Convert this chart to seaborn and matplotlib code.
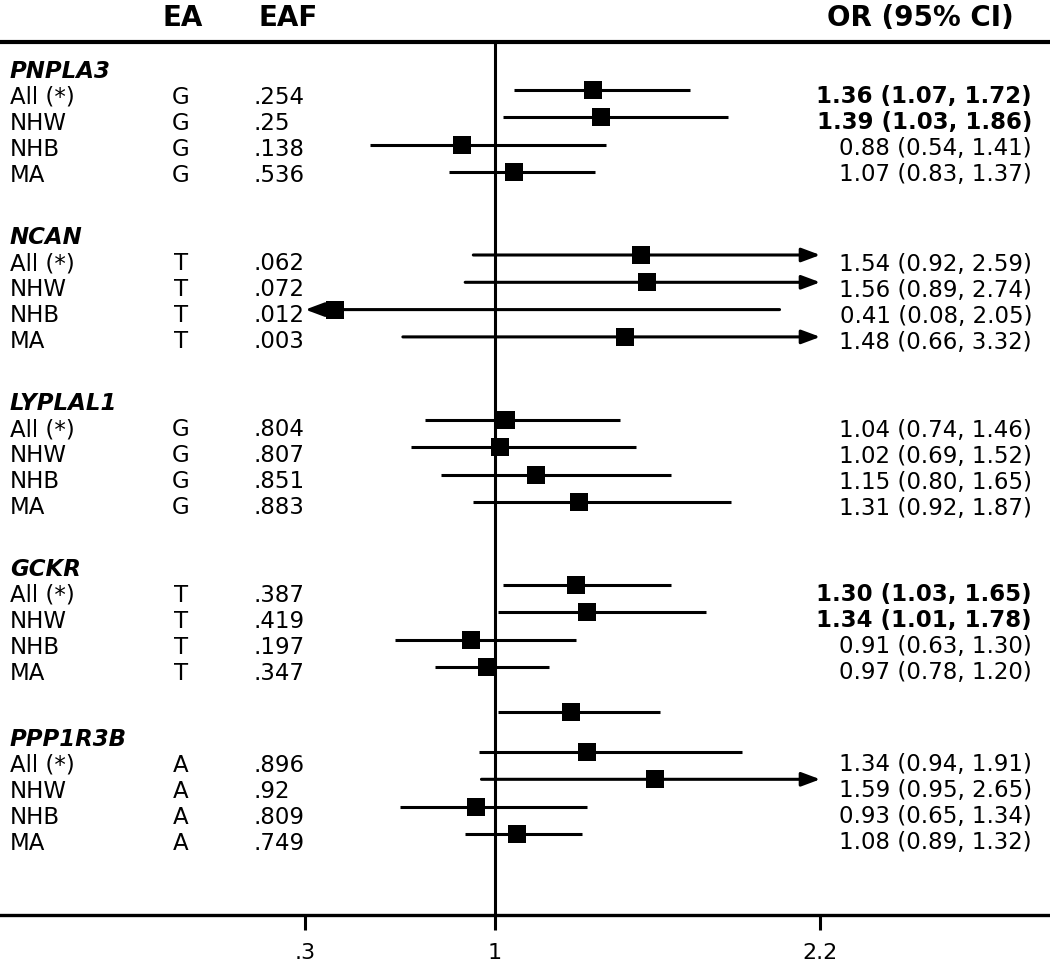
import matplotlib
matplotlib.use("Agg")
import matplotlib.pyplot as plt
import seaborn as sns
import pandas as pd
import numpy as np
from matplotlib import transforms

# ---- data ----
genes = ['PNPLA3', 'NCAN', 'LYPLAL1', 'GCKR', 'PPP1R3B']
groups = ['All (*)', 'NHW', 'NHB', 'MA']
ea = ['G', 'T', 'G', 'T', 'A']
eaf = [['.254', '.25', '.138', '.536'],
       ['.062', '.072', '.012', '.003'],
       ['.804', '.807', '.851', '.883'],
       ['.387', '.419', '.197', '.347'],
       ['.896', '.92', '.809', '.749']]
odds = [[1.36, 1.39, 0.88, 1.07],
        [1.54, 1.56, 0.41, 1.48],
        [1.04, 1.02, 1.15, 1.31],
        [1.30, 1.34, 0.91, 0.97],
        [1.34, 1.59, 0.93, 1.08]]
ci_lo = [[1.07, 1.03, 0.54, 0.83],
         [0.92, 0.89, 0.08, 0.66],
         [0.74, 0.69, 0.80, 0.92],
         [1.03, 1.01, 0.63, 0.78],
         [0.94, 0.95, 0.65, 0.89]]
ci_hi = [[1.72, 1.86, 1.41, 1.37],
         [2.59, 2.74, 2.05, 3.32],
         [1.46, 1.52, 1.65, 1.87],
         [1.65, 1.78, 1.30, 1.20],
         [1.91, 2.65, 1.34, 1.32]]
# unlabelled interval that sits between GCKR and PPP1R3B in the source figure
stray = (1.28, 1.01, 1.61)
xticks = [0.3, 1, 2.2]
xticklabels = ['.3', '1', '2.2']

# ---- layout (pixel rows, figure is 1050 x 969) ----
W, H = 1050, 969
axis_y = 915
head_y = [71, 238, 404, 569, 739]
row_step = 26
ci_offset = [19, 17, 16, 16, 13]
ci_step = 27.3
stray_y = 712
px_one, px_per_unit = 495, 271
clip_lo, clip_hi = xticks[0], xticks[-1]

rows = []
for g, gene in enumerate(genes):
    for i, grp in enumerate(groups):
        rows.append(dict(gene=gene, group=grp, ea=ea[g], eaf=eaf[g][i],
                         odds=odds[g][i], lo=ci_lo[g][i], hi=ci_hi[g][i],
                         text_y=head_y[g] + row_step * (i + 1),
                         ci_y=head_y[g] + ci_offset[g] + ci_step * i))
df = pd.DataFrame(rows)
df['bold'] = (df['lo'] > 1) | (df['hi'] < 1)

sns.set_theme(style='white')
plt.rcParams['font.family'] = ['DejaVu Sans']
plt.rcParams['text.color'] = 'black'
plt.rcParams['xtick.color'] = 'black'

fig = plt.figure(figsize=(W / 100, H / 100), dpi=100)
ax = fig.add_axes([0, (H - axis_y) / H, 1, axis_y / H])
ax.set_xlim(1 - px_one / px_per_unit, 1 + (W - px_one) / px_per_unit)
ax.set_ylim(axis_y, 0)

for s in ['top', 'left', 'right']:
    ax.spines[s].set_visible(False)
ax.spines['bottom'].set_linewidth(2.4)
ax.spines['bottom'].set_color('black')
ax.set_yticks([])
ax.set_xticks(xticks)
ax.set_xticklabels(xticklabels)
ax.tick_params(axis='x', direction='out', length=11, width=2.2, color='black',
               labelcolor='black', labelsize=16, pad=9, bottom=True)

# header rule and reference line
ax.axhline(42, color='black', lw=3)
ax.vlines(1, 42, axis_y, color='black', lw=2.2)

# confidence intervals (arrows where clipped)
ci = pd.concat([df[['odds', 'lo', 'hi', 'ci_y']],
                pd.DataFrame([dict(odds=stray[0], lo=stray[1], hi=stray[2], ci_y=stray_y)])],
               ignore_index=True)
arrow = dict(arrowstyle='-|>,head_length=0.75,head_width=0.28', lw=2.2, color='black',
             mutation_scale=15, shrinkA=0, shrinkB=0)
for _, r in ci.iterrows():
    lo = max(r['lo'], clip_lo)
    hi = min(r['hi'], clip_hi)
    if r['hi'] > clip_hi:
        ax.annotate('', xy=(hi, r['ci_y']), xytext=(lo, r['ci_y']), arrowprops=arrow)
    elif r['lo'] < clip_lo:
        ax.annotate('', xy=(lo, r['ci_y']), xytext=(hi, r['ci_y']), arrowprops=arrow)
    else:
        ax.hlines(r['ci_y'], lo, hi, color='black', lw=2.2)

sns.scatterplot(data=ci, x='odds', y='ci_y', marker='s', s=180, color='black',
                edgecolor='black', linewidth=0, ax=ax, legend=False, zorder=5)
ax.set_xlabel('')
ax.set_ylabel('')

# text columns
tr = transforms.blended_transform_factory(ax.transAxes, ax.transData)
fs = 16.5
hfs = 20
ax.text(183 / W, 18, 'EA', transform=tr, ha='center', va='center',
        fontsize=hfs, fontweight='bold')
ax.text(288 / W, 18, 'EAF', transform=tr, ha='center', va='center',
        fontsize=hfs, fontweight='bold')
ax.text(1014 / W, 18, 'OR (95% CI)', transform=tr, ha='right', va='center',
        fontsize=hfs, fontweight='bold')

for g, gene in enumerate(genes):
    ax.text(10 / W, head_y[g], gene, transform=tr, ha='left', va='center',
            fontsize=fs, fontweight='bold', fontstyle='italic')

for _, r in df.iterrows():
    y = r['text_y']
    ax.text(10 / W, y, r['group'], transform=tr, ha='left', va='center', fontsize=fs)
    ax.text(181 / W, y, r['ea'], transform=tr, ha='center', va='center', fontsize=fs)
    ax.text(254 / W, y, r['eaf'], transform=tr, ha='left', va='center', fontsize=fs)
    label = f"{r['odds']:.2f} ({r['lo']:.2f}, {r['hi']:.2f})"
    ax.text(1032 / W, y, label, transform=tr, ha='right', va='center', fontsize=fs,
            fontweight='bold' if r['bold'] else 'normal')

fig.savefig('out.png', dpi=100)
